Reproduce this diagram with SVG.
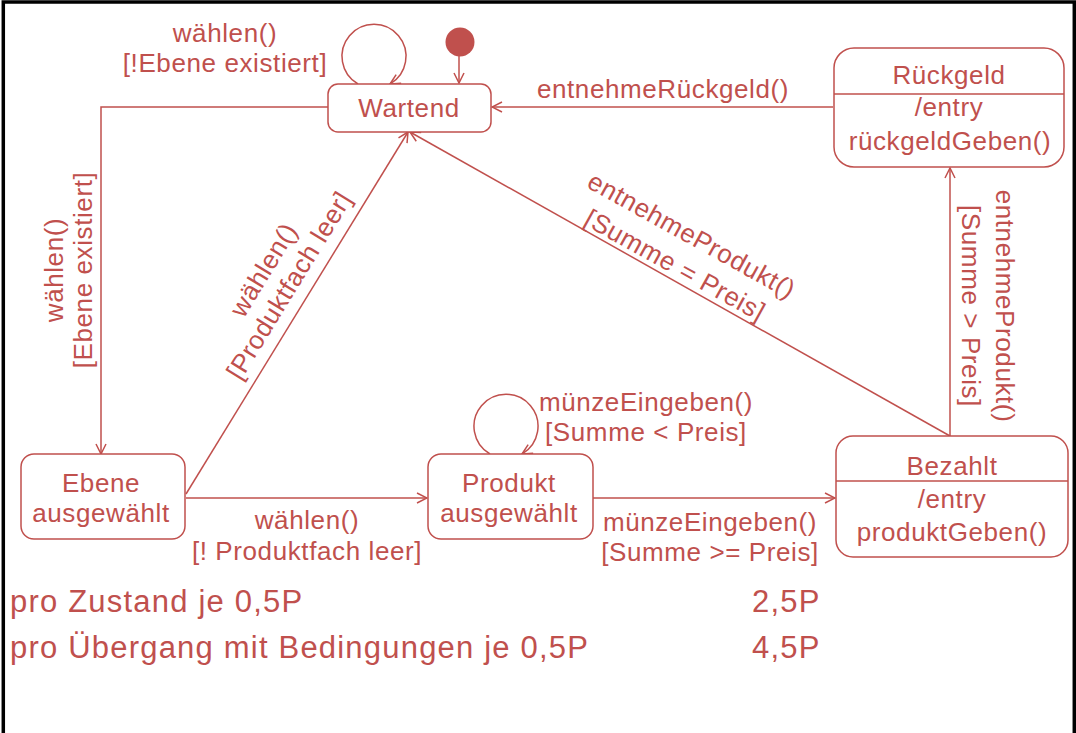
<svg xmlns="http://www.w3.org/2000/svg" width="1076" height="733" viewBox="0 0 1076 733">
<style>
  text { font-family: "Liberation Sans", Arial, sans-serif; font-size: 26px; letter-spacing: 0.6px; fill: #c0504d; text-anchor: middle; }
  .big { font-size: 31px; letter-spacing: 1.2px; text-anchor: start; }
  .state { fill: #ffffff; stroke: #c0504d; stroke-width: 1.5; }
  .div { stroke: #c0504d; stroke-width: 1.5; }
  .edge { fill: none; stroke: #c0504d; stroke-width: 1.5; }
</style>
<defs>
  <marker id="arr" viewBox="0 0 12 12" refX="11" refY="6" markerWidth="12" markerHeight="12" markerUnits="userSpaceOnUse" orient="auto">
    <path d="M1,1 L11,6 L1,11" fill="none" stroke="#c0504d" stroke-width="1.5"/>
  </marker>
</defs>
<rect width="1076" height="733" fill="#ffffff"/>
<path d="M3.3,733 V2 H1074.3 V733" fill="none" stroke="#000000" stroke-width="3.5"/>

<g id="connectors">
  <line class="edge" x1="459" y1="56" x2="459" y2="83" marker-end="url(#arr)"/>
  <path class="edge" d="M358,84 A32,32 0 1 1 390,84" marker-end="url(#arr)"/>
  <path class="edge" d="M490,454 A32,32 0 1 1 522,454" marker-end="url(#arr)"/>
  <line class="edge" x1="833" y1="107" x2="492" y2="107" marker-end="url(#arr)"/>
  <polyline class="edge" points="329,107 101,107 101,454" marker-end="url(#arr)"/>
  <line class="edge" x1="186" y1="494" x2="408" y2="132" marker-end="url(#arr)"/>
  <line class="edge" x1="950" y1="436" x2="410" y2="132" marker-end="url(#arr)"/>
  <line class="edge" x1="186" y1="498" x2="427" y2="498" marker-end="url(#arr)"/>
  <line class="edge" x1="593" y1="498" x2="835" y2="498" marker-end="url(#arr)"/>
  <line class="edge" x1="950" y1="436" x2="950" y2="168" marker-end="url(#arr)"/>
</g>

<g id="initial">
  <circle cx="460" cy="42" r="14.5" fill="#c0504d"/>
</g>

<g id="wartend">
  <rect class="state" x="328" y="84" width="163" height="48" rx="10"/>
  <text x="409" y="117">Wartend</text>
</g>

<g id="rueckgeld">
  <rect class="state" x="834" y="48" width="230" height="119" rx="20"/>
  <line class="div" x1="834" y1="94" x2="1064" y2="94"/>
  <text x="949" y="84">Rückgeld</text>
  <text x="949" y="116">/entry</text>
  <text x="950" y="150">rückgeldGeben()</text>
</g>

<g id="ebene">
  <rect class="state" x="21" y="454" width="164" height="85" rx="13"/>
  <text x="101" y="492">Ebene</text>
  <text x="101" y="522">ausgewählt</text>
</g>

<g id="produkt">
  <rect class="state" x="428" y="454" width="165" height="85" rx="13"/>
  <text x="509" y="492">Produkt</text>
  <text x="509" y="522">ausgewählt</text>
</g>

<g id="bezahlt">
  <rect class="state" x="836" y="436" width="232" height="121" rx="17"/>
  <line class="div" x1="836" y1="481" x2="1068" y2="481"/>
  <text x="952" y="475">Bezahlt</text>
  <text x="952" y="508">/entry</text>
  <text x="952" y="541">produktGeben()</text>
</g>

<g id="labels">
  <text x="225" y="42">wählen()</text>
  <text x="225" y="72">[!Ebene existiert]</text>
  <text x="663" y="98">entnehmeRückgeld()</text>
  <g transform="translate(69,270) rotate(-90)">
    <text x="0" y="-6">wählen()</text>
    <text x="0" y="23">[Ebene existiert]</text>
  </g>
  <g transform="translate(277,278) rotate(-58.5)">
    <text x="0" y="-7">wählen()</text>
    <text x="0" y="23">[Produktfach leer]</text>
  </g>
  <g transform="translate(683,251) rotate(29)">
    <text x="0" y="-9">entnehmeProdukt()</text>
    <text x="0" y="25">[Summe = Preis]</text>
  </g>
  <g transform="translate(987,306) rotate(90)">
    <text x="0" y="-9">entnehmeProdukt()</text>
    <text x="0" y="25">[Summe &gt; Preis]</text>
  </g>
  <text x="646" y="411">münzeEingeben()</text>
  <text x="646" y="441">[Summe &lt; Preis]</text>
  <text x="307" y="529">wählen()</text>
  <text x="307" y="560">[! Produktfach leer]</text>
  <text x="710" y="531">münzeEingeben()</text>
  <text x="710" y="561">[Summe &gt;= Preis]</text>
  <text class="big" x="10" y="612">pro Zustand je 0,5P</text>
  <text class="big" x="10" y="658">pro Übergang mit Bedingungen je 0,5P</text>
  <text class="big" x="752" y="612">2,5P</text>
  <text class="big" x="752" y="658">4,5P</text>
</g>
</svg>
